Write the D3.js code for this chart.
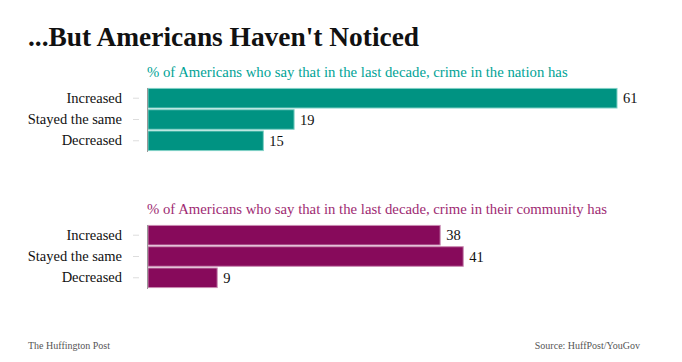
<!DOCTYPE html>
<html>
<head>
<meta charset="utf-8">
<script src="https://cdn.jsdelivr.net/npm/d3@7"></script>
<style>
body { margin: 0; background: #fff; }
svg { display: block; font-family: "Liberation Serif", "Times New Roman", serif; }
</style>
</head>
<body>
<svg id="chart"></svg>
<script>
var width = 682;
var height = 362;

var categories = ["Increased", "Stayed the same", "Decreased"];
var nationValues = [61, 19, 15];
var communityValues = [38, 41, 9];

var svg = d3.select("#chart")
    .attr("width", width)
    .attr("height", height);

svg.append("text")
    .attr("x", 28).attr("y", 46)
    .attr("font-size", 27.4).attr("font-weight", "bold")
    .attr("fill", "#111")
    .text("...But Americans Haven't Noticed");

var x = d3.scaleLinear().domain([0, 61]).range([0, 469]);

function drawPanel(top, values, title, fill, stroke, titleColor) {
    var y = d3.scaleBand().domain(categories).range([0, 63]).paddingInner(0.08).paddingOuter(0.02);
    var g = svg.append("g").attr("transform", "translate(147," + top + ")");

    g.append("text")
        .attr("x", 0).attr("y", -11)
        .attr("font-size", 14.75)
        .attr("fill", titleColor)
        .text(title);

    g.selectAll("rect")
        .data(values).enter().append("rect")
        .attr("x", 1)
        .attr("y", function (d, i) { return y(categories[i]); })
        .attr("width", function (d) { return x(d); })
        .attr("height", y.bandwidth())
        .attr("fill", fill)
        .attr("stroke", stroke)
        .attr("stroke-width", 1);

    g.selectAll("text.value")
        .data(values).enter().append("text")
        .attr("class", "value")
        .attr("x", function (d) { return x(d) + 7; })
        .attr("y", function (d, i) { return y(categories[i]) + y.bandwidth() / 2; })
        .attr("dy", "0.35em")
        .attr("font-size", 14.5)
        .attr("fill", "#111")
        .text(function (d) { return d; });

    var axis = g.append("g").call(d3.axisLeft(y).tickSize(6).tickPadding(9));
    axis.select(".domain").attr("stroke", "#999").attr("d", "M0.5,0V64");
    axis.selectAll(".tick line").attr("stroke", "#ddd").attr("transform", "translate(-8,0)");
    axis.selectAll(".tick text")
        .attr("font-family", "Liberation Serif, serif")
        .attr("font-size", 14.5)
        .attr("fill", "#111")
        .attr("x", -25);
}

drawPanel(88, nationValues,
    "% of Americans who say that in the last decade, crime in the nation has",
    "#009382", "#7fd0c5", "#00a396");
drawPanel(225, communityValues,
    "% of Americans who say that in the last decade, crime in their community has",
    "#870a5b", "#c98bb2", "#9e2a72");

svg.append("text")
    .attr("x", 28).attr("y", 349)
    .attr("font-size", 10).attr("fill", "#555")
    .text("The Huffington Post");

svg.append("text")
    .attr("x", 640).attr("y", 349)
    .attr("text-anchor", "end")
    .attr("font-size", 10).attr("fill", "#555")
    .text("Source: HuffPost/YouGov");
</script>
</body>
</html>
